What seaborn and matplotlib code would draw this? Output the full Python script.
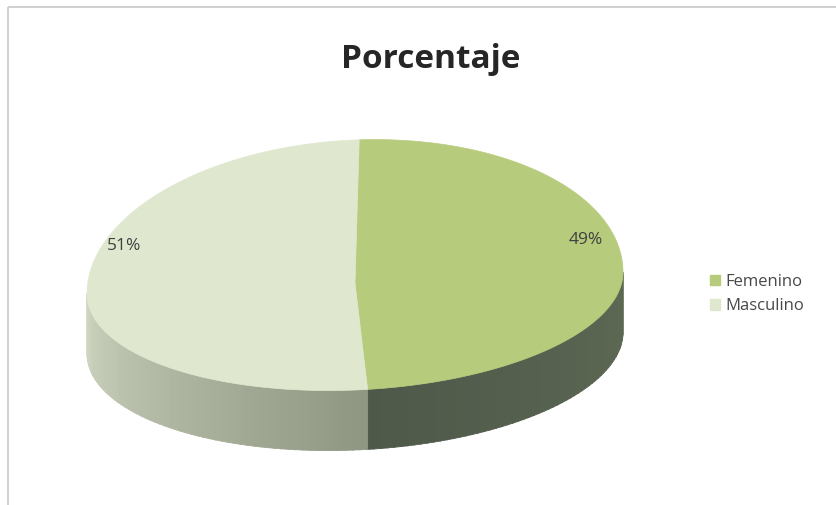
import matplotlib
matplotlib.use("Agg")
import matplotlib.pyplot as plt
from matplotlib.patches import Polygon, Patch, Rectangle
import seaborn as sns
import numpy as np

# data
categories = ["Femenino", "Masculino"]
values = [49, 51]
top_colors = ["#b7cb7c", "#dfe8cf"]
side_colors = [("#5e6954", "#4f594a"), ("#8f9783", "#cfd6c1")]

sns.set_theme(style="white")
plt.rcParams['font.family'] = ['Open Sans', 'DejaVu Sans']

fig = plt.figure(figsize=(8.37, 5.05), dpi=100)
ax = fig.add_axes([0, 0, 1, 1])
ax.set_xlim(0, 837)
ax.set_ylim(505, 0)
ax.axis('off')

# chart frame
ax.add_patch(Rectangle((8, 7), 840, 520, fill=False, ec="#c8c8c8", lw=1.2))

# pie geometry (pixel space, y down), slight perspective and tilt
cx, cy, a = 355, 283, 268
b_far, b_near, depth, tilt = 143, 107, 60, -0.04
start = np.deg2rad(0.9)


def edge(phi, dy=0.0):
    c = np.cos(phi)
    x = cx + a * np.sin(phi)
    y = cy - np.where(c > 0, b_far, b_near) * c + tilt * (x - cx) + dy
    return np.column_stack([x, y])


total = sum(values)
starts = start + np.cumsum([0] + values[:-1]) / total * 2 * np.pi
ends = start + np.cumsum(values) / total * 2 * np.pi

# sides (front half only)
for s, e, (c1, c2) in zip(starts, ends, side_colors):
    lo, hi = max(s, np.pi / 2), min(e, 3 * np.pi / 2)
    if hi <= lo:
        continue
    n = 60
    grid = np.linspace(lo, hi, n + 1)
    pal = sns.blend_palette([c1, c2], n_colors=n)
    for i in range(n):
        ph = np.linspace(grid[i], grid[i + 1] + 0.004, 4)
        pts = np.vstack([edge(ph), edge(ph[::-1], depth)])
        ax.add_patch(Polygon(pts, closed=True, fc=pal[i], ec=pal[i], lw=0.6))

# top faces
for s, e, c in zip(starts, ends, top_colors):
    ph = np.linspace(s, e, 200)
    pts = np.vstack([[cx, cy], edge(ph)])
    ax.add_patch(Polygon(pts, closed=True, fc=c, ec=c, lw=0.5))

# data labels
for s, e, v in zip(starts, ends, values):
    mid = (s + e) / 2
    x = cx + 0.86 * a * np.sin(mid)
    y = cy - 40 + 0.3 * tilt * (x - cx)
    ax.text(x, y, f"{v}%", ha="center", va="center", fontsize=12.5, color="#404040")

ax.text(431, 60, "Porcentaje", ha="center", va="center", fontsize=24,
        fontweight="bold", color="#262626")

handles = [Patch(fc=c, ec=c) for c in top_colors]
ax.legend(handles, categories, loc="upper left", bbox_to_anchor=(695 / 837, 1 - 259 / 505),
          frameon=False, fontsize=12, handlelength=0.6, handleheight=0.6,
          handletextpad=0.35, labelspacing=0.5, labelcolor="#484848")

fig.savefig("out.png", dpi=100)
